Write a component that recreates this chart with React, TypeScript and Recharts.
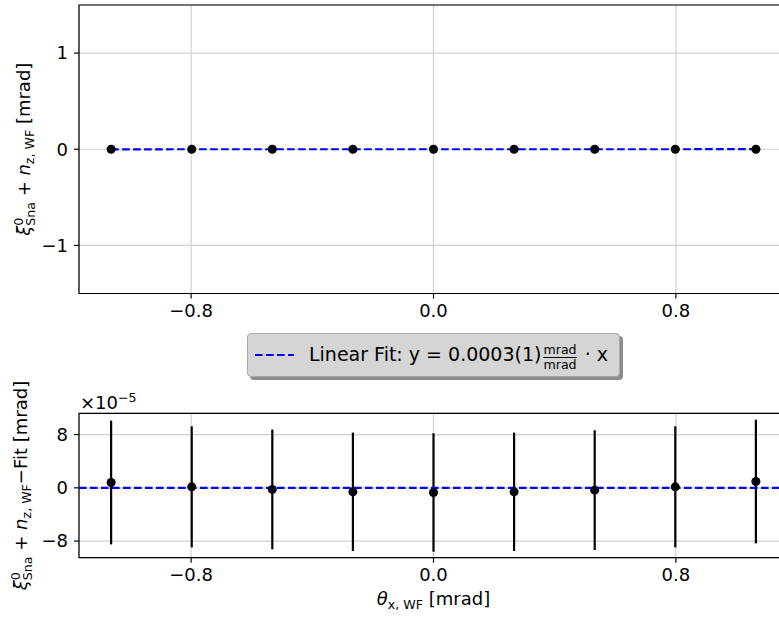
import React from 'react';
import {
  ScatterChart,
  Scatter,
  XAxis,
  YAxis,
  CartesianGrid,
  ErrorBar,
  Legend,
  ReferenceArea,
} from 'recharts';

const FONT = 'DejaVu Sans';

// Pivot angle θx,WF of each measurement [mrad]
const thetaX = [-1.064, -0.798, -0.532, -0.266, 0.0, 0.266, 0.532, 0.798, 1.064];
// Measured ξ⁰Sna + nz,WF [mrad]
const tiltSum = [-0.000311, -0.000238, -0.000162, -0.000086, -0.000007, 0.000074, 0.000156, 0.000241, 0.000329];
// Residuals to the linear fit, in units of 1e-5 mrad
const residual = [0.8, 0.15, -0.24, -0.6, -0.7, -0.6, -0.35, 0.15, 0.95];
const residualErr = [9.3, 9.1, 9.0, 8.9, 8.9, 8.9, 9.0, 9.1, 9.3];

// Linear fit slope [mrad/mrad]
const fitSlope = 0.0003;

const xDomain: [number, number] = [-1.17, 1.17];
const xTicks = [-0.8, 0, 0.8];
const topYDomain: [number, number] = [-1.5, 1.5];
const topYTicks = [-1, 0, 1];
const botYDomain: [number, number] = [-10.5, 11.2];
const botYTicks = [-8, 0, 8];

const topPoints = thetaX.map((x, i) => ({ x, y: tiltSum[i] }));
const topFit = [thetaX[0], thetaX[thetaX.length - 1]].map((x) => ({ x, y: fitSlope * x }));
const resPoints = thetaX.map((x, i) => ({ x, y: residual[i], err: residualErr[i] }));
const resFit = xDomain.map((x) => ({ x, y: 0 }));

const minus = (s: string) => s.replace('-', '\u2212');
const fmtX = (v: number) => minus(v.toFixed(1));
const fmtY = (v: number) => minus(String(v));

const tickStyle = { fontFamily: FONT, fontSize: 18, fill: '#000' };
const tickLine = { stroke: '#000', strokeWidth: 1.2 };
const FIT_BLUE = '#0000ff';
const DASH = '7.6 3.4';
const SUB = 12.6;

const TopYLabel = (props: any) => {
  const vb = props.viewBox;
  const cx = 30;
  const cy = vb.y + vb.height / 2;
  return (
    <text
      transform={`rotate(-90 ${cx} ${cy})`}
      x={cx}
      y={cy}
      textAnchor="middle"
      fontFamily={FONT}
      fontSize={18}
      fill="#000"
    >
      <tspan fontStyle="italic">ξ</tspan>
      <tspan dy={-7} fontSize={SUB}>0</tspan>
      <tspan dx={-8} dy={12} fontSize={SUB}>Sna</tspan>
      <tspan dy={-5}> + </tspan>
      <tspan fontStyle="italic">n</tspan>
      <tspan dy={4} fontSize={SUB}>z, WF</tspan>
      <tspan dy={-4}> [mrad]</tspan>
    </text>
  );
};

const BottomYLabel = (props: any) => {
  const vb = props.viewBox;
  const cx = 27;
  const cy = vb.y + vb.height / 2;
  return (
    <g>
      <text
        transform={`rotate(-90 ${cx} ${cy})`}
        x={cx}
        y={cy}
        textAnchor="middle"
        fontFamily={FONT}
        fontSize={18}
        fill="#000"
      >
        <tspan fontStyle="italic">ξ</tspan>
        <tspan dy={-7} fontSize={SUB}>0</tspan>
        <tspan dx={-8} dy={12} fontSize={SUB}>Sna</tspan>
        <tspan dy={-5}> + </tspan>
        <tspan fontStyle="italic">n</tspan>
        <tspan dy={4} fontSize={SUB}>z, WF</tspan>
        <tspan dy={-4}>−Fit [mrad]</tspan>
      </text>
      <text x={vb.x + vb.width + 1} y={vb.y - 4.8} fontFamily={FONT} fontSize={18} fill="#000">
        ×10
        <tspan dy={-7} fontSize={SUB}>−5</tspan>
      </text>
    </g>
  );
};

const BottomXLabel = (props: any) => {
  const vb = props.viewBox;
  const cx = vb.x + vb.width / 2;
  const cy = vb.y + 47.3;
  return (
    <text x={cx} y={cy} textAnchor="middle" fontFamily={FONT} fontSize={18} fill="#000">
      <tspan fontStyle="italic">θ</tspan>
      <tspan dy={4} fontSize={SUB}>x, WF</tspan>
      <tspan dy={-4}> [mrad]</tspan>
    </text>
  );
};

const FitLegend = () => (
  <div
    style={{
      width: 373,
      height: 44,
      boxSizing: 'border-box',
      background: '#d5d5d5',
      border: '1px solid #a9a9a9',
      borderRadius: 4,
      boxShadow: '3px 3px 0 #8c8c8c',
      display: 'flex',
      alignItems: 'center',
      fontFamily: FONT,
      fontSize: 19,
      color: '#000',
      whiteSpace: 'nowrap',
    }}
  >
    <svg width={39} height={4} style={{ marginLeft: 7, flex: 'none' }}>
      <line x1={0} y1={2} x2={39} y2={2} stroke={FIT_BLUE} strokeWidth={2.2} strokeDasharray={DASH} />
    </svg>
    <span style={{ marginLeft: 15, lineHeight: '20px' }}>
      Linear Fit: y = 0.0003(1)
      <span
        style={{
          display: 'inline-flex',
          flexDirection: 'column',
          alignItems: 'center',
          fontSize: SUB,
          lineHeight: '12px',
          verticalAlign: 'middle',
          position: 'relative',
          top: 2,
          margin: '0 2px',
        }}
      >
        <span style={{ borderBottom: '1px solid #000', paddingBottom: 1 }}>mrad</span>
        <span style={{ paddingTop: 1 }}>mrad</span>
      </span>
      {' · x'}
    </span>
  </div>
);

export default function App() {
  return (
    <div
      style={{
        position: 'absolute',
        left: 0,
        top: 0,
        width: 779,
        height: 617,
        overflow: 'hidden',
        background: '#fff',
      }}
    >
      <div style={{ position: 'absolute', left: 0, top: 0 }}>
        <ScatterChart width={800} height={380} margin={{ top: 5, right: 12, bottom: 56.5, left: 0 }}>
          <CartesianGrid stroke="#d0d0d0" strokeWidth={1.2} />
          <XAxis
            type="number"
            dataKey="x"
            domain={xDomain}
            ticks={xTicks}
            tickFormatter={fmtX}
            allowDataOverflow
            height={30}
            axisLine={false}
            tickLine={tickLine}
            tickSize={5}
            tickMargin={6}
            tick={tickStyle}
          />
          <YAxis
            type="number"
            dataKey="y"
            domain={topYDomain}
            ticks={topYTicks}
            tickFormatter={fmtY}
            allowDataOverflow
            width={79}
            axisLine={false}
            tickLine={tickLine}
            tickSize={5}
            tickMargin={6}
            tick={tickStyle}
            label={{ content: TopYLabel }}
          />
          <ReferenceArea
            x1={xDomain[0]}
            x2={xDomain[1]}
            y1={topYDomain[0]}
            y2={topYDomain[1]}
            fill="none"
            stroke="#000"
            strokeWidth={1.2}
          />
          <Scatter
            name="Linear Fit"
            data={topFit}
            line={{ stroke: FIT_BLUE, strokeWidth: 2.2, strokeDasharray: DASH }}
            shape={() => <g />}
            legendType="line"
            isAnimationActive={false}
          />
          <Scatter name="data" data={topPoints} fill="#000" legendType="none" isAnimationActive={false} />
          <Legend
            layout="horizontal"
            verticalAlign="middle"
            align="center"
            wrapperStyle={{ position: 'absolute', left: 247, top: 333, width: 373, height: 44 }}
            content={() => <FitLegend />}
          />
        </ScatterChart>
      </div>
      <div style={{ position: 'absolute', left: 0, top: 360 }}>
        <ScatterChart width={800} height={257} margin={{ top: 53.3, right: 12, bottom: 9.3, left: 0 }}>
          <CartesianGrid stroke="#d0d0d0" strokeWidth={1.2} />
          <XAxis
            type="number"
            dataKey="x"
            domain={xDomain}
            ticks={xTicks}
            tickFormatter={fmtX}
            allowDataOverflow
            height={50}
            axisLine={false}
            tickLine={tickLine}
            tickSize={5}
            tickMargin={6}
            tick={tickStyle}
            label={{ content: BottomXLabel }}
          />
          <YAxis
            type="number"
            dataKey="y"
            domain={botYDomain}
            ticks={botYTicks}
            tickFormatter={fmtY}
            allowDataOverflow
            width={79}
            axisLine={false}
            tickLine={tickLine}
            tickSize={5}
            tickMargin={6}
            tick={tickStyle}
            label={{ content: BottomYLabel }}
          />
          <ReferenceArea
            x1={xDomain[0]}
            x2={xDomain[1]}
            y1={botYDomain[0]}
            y2={botYDomain[1]}
            fill="none"
            stroke="#000"
            strokeWidth={1.2}
          />
          <Scatter
            name="fit"
            data={resFit}
            line={{ stroke: FIT_BLUE, strokeWidth: 2.2, strokeDasharray: DASH }}
            shape={() => <g />}
            isAnimationActive={false}
          />
          <Scatter name="residual" data={resPoints} fill="#000" isAnimationActive={false}>
            <ErrorBar dataKey="err" direction="y" width={0} stroke="#000" strokeWidth={2.2} />
          </Scatter>
        </ScatterChart>
      </div>
    </div>
  );
}
